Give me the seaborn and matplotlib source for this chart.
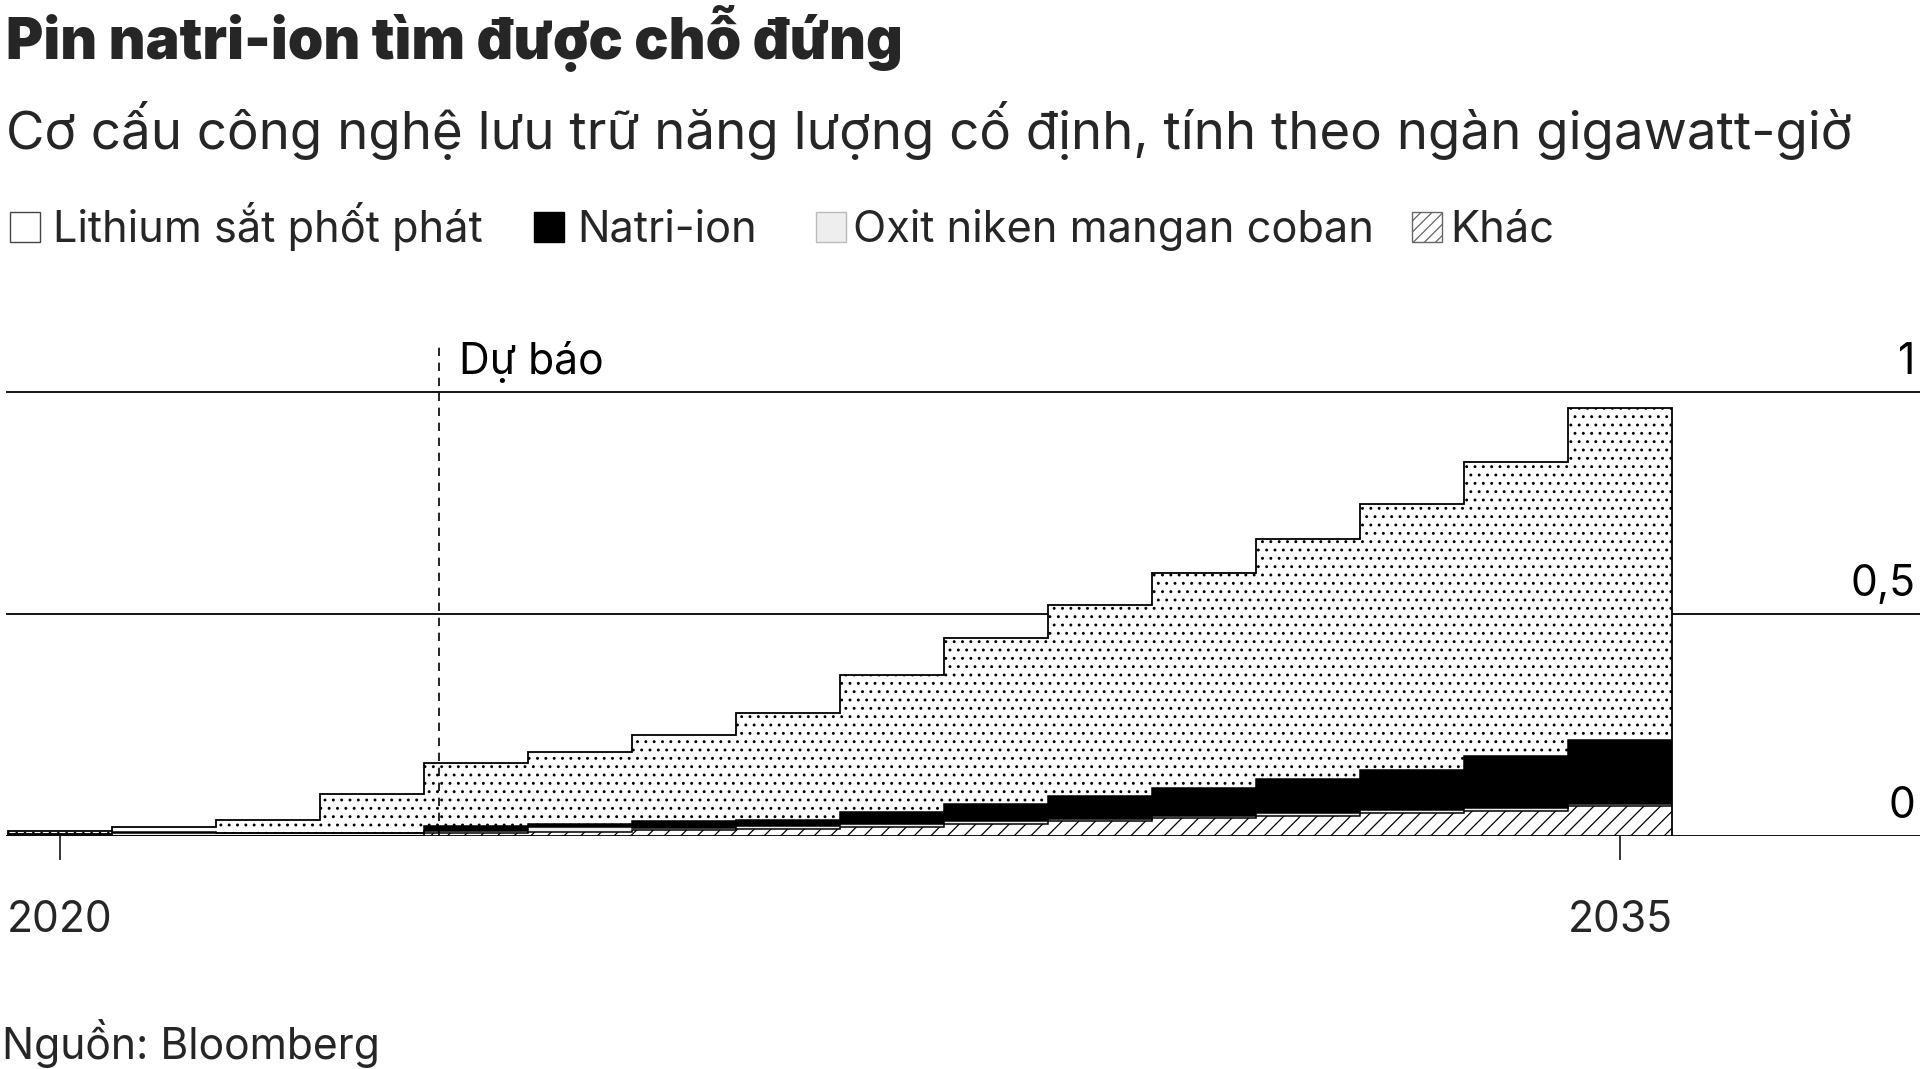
import matplotlib
matplotlib.use("Agg")
import matplotlib.pyplot as plt
from matplotlib.patches import Rectangle
import matplotlib.transforms as mtrans
import numpy as np
import pandas as pd
import seaborn as sns

# ---------------- data ----------------
years = list(range(2020, 2036))
khac = [0.000, 0.001, 0.001, 0.001, 0.007, 0.011, 0.015, 0.017, 0.022, 0.027, 0.034, 0.041, 0.047, 0.053, 0.058, 0.068]
oxit = [0.005, 0.007, 0.006, 0.006, 0.005, 0.010, 0.005, 0.006, 0.005, 0.008, 0.006, 0.006, 0.005, 0.006, 0.006, 0.006]
natri = [0.001, 0.001, 0.001, 0.001, 0.012, 0.006, 0.014, 0.014, 0.028, 0.037, 0.051, 0.063, 0.078, 0.090, 0.116, 0.142]
lithium = [0.006, 0.012, 0.028, 0.088, 0.142, 0.163, 0.195, 0.241, 0.309, 0.374, 0.430, 0.483, 0.539, 0.598, 0.663, 0.748]

series_names = ["Lithium sắt phốt phát", "Natri-ion", "Oxit niken mangan coban", "Khác"]
title = "Pin natri-ion tìm được chỗ đứng"
subtitle = "Cơ cấu công nghệ lưu trữ năng lượng cố định, tính theo ngàn gigawatt-giờ"
source = "Nguồn: Bloomberg"
forecast_label = "Dự báo"
forecast_x = 2023.64
x_ticks = [2020, 2035]
y_ticks = [0, 0.5, 1]
y_tick_labels = ["0", "0,5", "1"]

# ---------------- style ----------------
sns.set_theme(style="white")
plt.rcParams["font.family"] = ["Inter", "DejaVu Sans"]
plt.rcParams["hatch.linewidth"] = 0.9

W, H = 1920, 1069
fig = plt.figure(figsize=(W / 100, H / 100), dpi=100)
fig.patch.set_facecolor("white")

ax_left = 6 / W
ax = fig.add_axes([ax_left, 0.2175, 1 - ax_left, 0.52])
ax.set_facecolor("none")

df = pd.DataFrame({"year": years, "khac": khac, "oxit": oxit, "natri": natri, "lithium": lithium})
b1 = np.array(khac)
b2 = b1 + np.array(oxit)
b3 = b2 + np.array(natri)
b4 = b3 + np.array(lithium)

common = dict(native_scale=True, width=1.0, errorbar=None, ax=ax, edgecolor="black", linewidth=0, zorder=3)
sns.barplot(data=df, x="year", y="khac", color="white", hatch="//", **common)
sns.barplot(data=df, x="year", y="oxit", bottom=b1, color="#efefef", **common)
sns.barplot(data=df, x="year", y="natri", bottom=b2, color="black", **common)
sns.barplot(data=df, x="year", y="lithium", bottom=b3, color="white", hatch="..", **common)

# step outlines of each layer boundary (no internal vertical edges)
edges = np.arange(years[0] - 0.5, years[-1] + 1.0, 1.0)
for cum in (b1, b2, b3):
    ax.stairs(cum, edges, baseline=None, color="black", linewidth=1.1, zorder=4)
ax.stairs(b4, edges, baseline=0, color="black", linewidth=1.3, zorder=4)

# gridlines
for yv in y_ticks:
    ax.axhline(yv, color="black", linewidth=1.3, zorder=1 if yv > 0 else 5)

ax.set_xlim(2020 - 54 / 104, 2020 + 1860 / 104)
ax.set_ylim(0, 1.25)
for s in ax.spines.values():
    s.set_visible(False)
ax.set_xlabel("")
ax.set_ylabel("")
ax.set_yticks([])
ax.set_xticks(x_ticks)
ax.set_xticklabels([str(x) for x in x_ticks], fontsize=30.7)
ax.tick_params(axis="x", direction="out", length=17, width=1.1, color="black", pad=29, bottom=True)

# y labels at right, above lines
trans = mtrans.blended_transform_factory(ax.transAxes, ax.transData)
for yv, lab in zip(y_ticks, y_tick_labels):
    ax.annotate(lab, xy=(1.0, yv), xycoords=trans, xytext=(-3, 13), textcoords="offset points",
                ha="right", va="baseline", fontsize=30.7, color="black")

# forecast line
ax.plot([forecast_x, forecast_x], [0, 1.103], color="black", linestyle=(0, (5, 4)), linewidth=1.2, zorder=6)
ax.text(2023.84, 1.041, forecast_label, fontsize=30.7, ha="left", va="baseline", color="black")

# titles
fig.text(6 / W, 1 - 59 / H, title, fontsize=41, fontweight="black", ha="left", va="baseline")
fig.text(6 / W, 1 - 149 / H, subtitle, fontsize=38, ha="left", va="baseline")
fig.text(2 / W, 1 - 1059 / H, source, fontsize=30.7, ha="left", va="baseline")

# legend (manual)
box_y = 1 - 242 / H
box_h = 30 / H
box_w = 30 / W
leg_items = [
    (10, "white", None, "#444444", 53, series_names[0]),
    (534, "black", None, "black", 577, series_names[1]),
    (816, "#eeeeee", None, "#bbbbbb", 853, series_names[2]),
    (1412, "white", "///", "#666666", 1450, series_names[3]),
]
for bx, fc, hatch, ec, tx, label in leg_items:
    r = Rectangle((bx / W, box_y), box_w, box_h, transform=fig.transFigure, facecolor=fc,
                  edgecolor=ec, hatch=hatch, linewidth=1.0)
    fig.patches.append(r)
    fig.text(tx / W, box_y, label, fontsize=31.2, ha="left", va="baseline")

fig.savefig("out.png", dpi=100, facecolor="white")
